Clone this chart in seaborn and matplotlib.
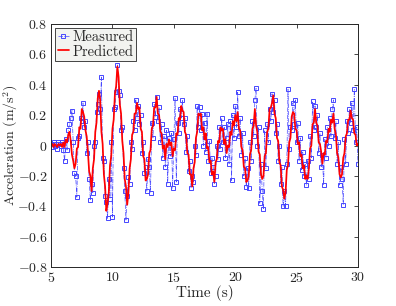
import numpy as np
import pandas as pd
import seaborn as sns
import matplotlib.pyplot as plt

# time grid (s), 0.1 s steps from 5 to 30
time_s = np.round(np.arange(5.0, 30.05, 0.1), 1)

measured = [
    0.01, -0.01, 0.02, 0.00, 0.01, -0.02, 0.02, 0.01, 0.00, 0.02,
    -0.03, -0.10, 0.04, -0.03, 0.10, 0.14, 0.18, 0.23, 0.02, -0.18,
    -0.20, -0.34, 0.05, 0.06, 0.18, 0.16, 0.28, 0.12, 0.16, -0.05,
    0.02, -0.22, -0.36, -0.25, -0.31, 0.00, 0.02, 0.22, 0.27, 0.34,
    0.24, 0.45, -0.08, -0.10, -0.33, -0.37, -0.48, -0.22, -0.35, 0.02,
    -0.47, 0.24, 0.25, 0.35, 0.53, 0.36, 0.33, 0.10, 0.12, -0.15,
    -0.30, -0.49, -0.33, -0.21, -0.25, 0.02, -0.02, 0.16, 0.10, 0.30,
    0.18, 0.26, 0.14, 0.20, -0.05, 0.02, -0.18, -0.14, -0.30, -0.09,
    -0.14, -0.31, 0.15, 0.05, 0.27, 0.19, 0.32, 0.16, 0.25, 0.02,
    0.14, -0.08, 0.06, -0.14, 0.10, -0.25, 0.05, -0.07, 0.08, -0.28,
    0.04, 0.31, -0.24, 0.15, 0.08, 0.24, 0.18, 0.30, 0.14, 0.18,
    -0.04, 0.06, -0.17, -0.10, -0.28, -0.20, -0.24, 0.00, -0.06, 0.26,
    0.12, 0.25, 0.10, 0.21, 0.00, 0.15, -0.04, 0.21, -0.10, 0.03,
    -0.18, -0.08, -0.14, -0.25, -0.20, 0.00, -0.09, 0.12, -0.02, 0.18,
    0.02, 0.12, -0.08, 0.05, 0.14, -0.12, 0.16, -0.23, 0.20, 0.05,
    0.26, 0.12, 0.35, 0.06, 0.18, -0.06, 0.08, -0.20, -0.08, -0.27,
    -0.15, -0.28, 0.02, -0.10, 0.16, 0.06, 0.30, 0.38, 0.00, 0.12,
    -0.38, -0.12, -0.30, -0.42, 0.10, -0.15, 0.14, 0.02, 0.24, 0.16,
    0.34, 0.22, 0.30, 0.08, 0.14, -0.10, 0.00, -0.25, -0.14, -0.40,
    -0.30, -0.40, -0.12, 0.37, -0.02, 0.12, 0.10, 0.28, 0.14, 0.30,
    0.02, 0.15, -0.10, 0.05, -0.16, -0.04, -0.20, -0.12, -0.26, -0.10,
    -0.22, 0.06, -0.08, 0.29, 0.10, 0.26, 0.12, 0.20, -0.05, 0.08,
    -0.14, -0.06, -0.26, 0.04, -0.08, 0.12, 0.00, 0.18, 0.06, 0.24,
    0.30, 0.05, 0.16, -0.12, 0.02, -0.26, -0.14, -0.22, -0.39, 0.04,
    -0.12, 0.16, 0.08, 0.24, 0.15, 0.28, 0.10, 0.37, 0.02, 0.12,
    -0.12,
]

predicted = [
    0.00, 0.01, -0.01, 0.01, 0.00, -0.01, 0.01, 0.00, 0.01, -0.01,
    0.02, -0.01, 0.04, 0.02, 0.07, 0.09, 0.03, -0.06, -0.10, -0.15,
    -0.12, -0.02, -0.01, 0.12, 0.11, 0.24, 0.22, 0.19, 0.10, 0.06,
    -0.04, -0.17, -0.20, -0.30, -0.15, -0.09, 0.09, 0.15, 0.31, 0.36,
    0.30, 0.09, 0.01, -0.19, -0.27, -0.43, -0.38, -0.31, -0.13, -0.07,
    0.11, 0.17, 0.34, 0.39, 0.52, 0.45, 0.27, 0.21, 0.03, -0.05,
    -0.22, -0.27, -0.39, -0.31, -0.15, -0.09, 0.07, 0.09, 0.21, 0.21,
    0.28, 0.24, 0.25, 0.11, 0.09, -0.07, -0.09, -0.23, -0.22, -0.19,
    -0.05, -0.03, 0.11, 0.13, 0.25, 0.25, 0.32, 0.21, 0.20, 0.09,
    0.08, -0.02, 0.00, -0.09, 0.01, -0.01, 0.04, 0.00, 0.02, -0.07,
    -0.02, -0.03, 0.08, 0.07, 0.18, 0.17, 0.26, 0.23, 0.22, 0.09,
    0.07, -0.05, -0.06, -0.19, -0.19, -0.27, -0.15, -0.11, 0.05, 0.09,
    0.21, 0.20, 0.21, 0.10, 0.12, 0.04, 0.08, -0.02, -0.01, -0.11,
    -0.10, -0.19, -0.17, -0.24, -0.11, -0.09, 0.03, 0.02, 0.12, 0.10,
    0.11, 0.01, 0.04, -0.05, 0.00, -0.01, 0.09, 0.07, 0.16, 0.13,
    0.20, 0.16, 0.22, 0.11, 0.10, -0.01, -0.03, -0.14, -0.15, -0.24,
    -0.23, -0.20, -0.06, -0.03, 0.11, 0.13, 0.24, 0.13, 0.09, -0.04,
    -0.06, -0.19, -0.22, -0.20, -0.07, -0.05, 0.09, 0.11, 0.24, 0.25,
    0.28, 0.33, 0.21, 0.18, 0.05, 0.03, -0.11, -0.13, -0.27, -0.29,
    -0.35, -0.31, -0.16, -0.13, 0.02, 0.05, 0.19, 0.22, 0.21, 0.11,
    0.10, 0.01, 0.02, -0.07, -0.06, -0.15, -0.13, -0.22, -0.20, -0.22,
    -0.15, -0.02, 0.00, 0.14, 0.15, 0.24, 0.15, 0.13, 0.02, 0.01,
    -0.04, -0.12, -0.05, -0.06, 0.03, 0.02, 0.11, 0.09, 0.17, 0.15,
    0.21, 0.11, 0.07, -0.05, -0.08, -0.19, -0.21, -0.19, -0.08, -0.05,
    0.06, 0.08, 0.17, 0.17, 0.23, 0.18, 0.17, 0.08, 0.07, 0.00,
    0.01,
]

x_ticks = [5, 10, 15, 20, 25, 30]
y_ticks = [-0.8, -0.6, -0.4, -0.2, 0, 0.2, 0.4, 0.6, 0.8]
y_tick_labels = ['$-0.8$', '$-0.6$', '$-0.4$', '$-0.2$', '$0$', '$0.2$', '$0.4$', '$0.6$', '$0.8$']

df = pd.DataFrame({'t': time_s, 'measured': measured, 'predicted': predicted})

sns.set_style('white')
plt.rcParams['font.family'] = 'serif'
plt.rcParams['font.serif'] = ['cmr10', 'DejaVu Serif']
plt.rcParams['mathtext.fontset'] = 'cm'
plt.rcParams['axes.formatter.use_mathtext'] = True

fig, ax = plt.subplots(figsize=(3.96, 3.06), dpi=100)
fig.subplots_adjust(left=0.129, right=0.904, top=0.922, bottom=0.127)

sns.lineplot(data=df, x='t', y='measured', ax=ax, estimator=None, color='#4a4aff',
             marker='s', markersize=3.2, markerfacecolor='none', markeredgecolor='#4646ff',
             markeredgewidth=0.7, linestyle='-.', linewidth=0.5, label='Measured')
sns.lineplot(data=df, x='t', y='predicted', ax=ax, estimator=None, color='#ff0000',
             linewidth=1.25, label='Predicted')

ax.set_xlim(5, 30)
ax.set_ylim(-0.8, 0.8)
ax.set_xticks(x_ticks)
ax.set_yticks(y_ticks)
ax.set_yticklabels(y_tick_labels)
ax.set_xticklabels(['$%d$' % v for v in x_ticks])
ax.tick_params(direction='in', length=3, width=0.6, top=True, right=True,
               labelsize=10, colors='#262626', pad=2.5)
for s in ax.spines.values():
    s.set_linewidth(0.7)
    s.set_color('#262626')

ax.set_xlabel('Time (s)', fontsize=11, labelpad=0)
ax.set_ylabel('Acceleration (m/s$^2$)', fontsize=10)
ax.yaxis.set_label_coords(-0.1, 0.5)

leg = ax.legend(loc='upper left', fontsize=10.5, frameon=True, fancybox=False,
                borderpad=0.15, handlelength=0.8, handletextpad=0.2, labelspacing=0.05,
                borderaxespad=0.3)
leg.get_frame().set_facecolor('#f2f3f0')
leg.get_frame().set_edgecolor('#262626')
leg.get_frame().set_linewidth(0.6)
leg.get_frame().set_alpha(1)

fig.savefig('out.png', dpi=100)
